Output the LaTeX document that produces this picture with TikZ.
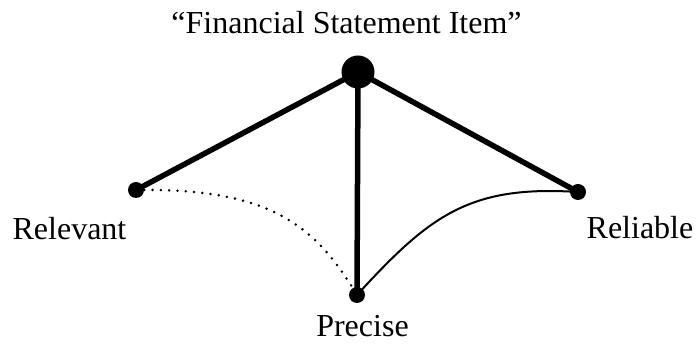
\documentclass[tikz,border=0pt]{standalone}
\usepackage{fontspec}
\setmainfont{Liberation Serif}
\usetikzlibrary{positioning}

\begin{document}
\begin{tikzpicture}[
    x=1pt, y=-1pt,
    every node/.style={font=\fontsize{32}{38}\selectfont},
    dot/.style={circle, fill=black, inner sep=0pt, minimum size=16pt},
    bigdot/.style={dot, minimum size=33pt},
    caption/.style={anchor=base, inner sep=0pt},
    spoke/.style={line width=5.5pt},
    link/.style={line width=2pt},
    weaklink/.style={line width=2.8pt, dash pattern=on 0pt off 8.3pt, line cap=round}
]
\useasboundingbox (0,0) rectangle (697,352);
% the item and its three qualities
\node[bigdot] (item) at (358,72) {};
\node[dot] (rel) at (136,190) {};
\node[dot] (rlb) at (578,192) {};
\node[dot] (prc) at (357,295) {};

\node[caption] (title) at ([shift={(-11.5,-38)}]item.center) {``Financial Statement Item''};
\node[caption] (rellab) at ([shift={(-66.5,50)}]rel.center) {Relevant};
\node[caption] (rlblab) at ([shift={(62,47)}]rlb.center) {Reliable};
\node[caption] (prclab) at ([shift={(5.5,42)}]prc.center) {Precise};

\draw[spoke] (item.center) -- (rel.center);
\draw[spoke] (item.center) -- (rlb.center);
\draw[spoke] (item.center) -- (prc.center);
\draw[weaklink] (rel.center) .. controls (270,188) and (315,225) .. (prc.center);
\draw[link] (prc.center) .. controls (430,215) and (470,185) .. (rlb.center);
\end{tikzpicture}
\end{document}
